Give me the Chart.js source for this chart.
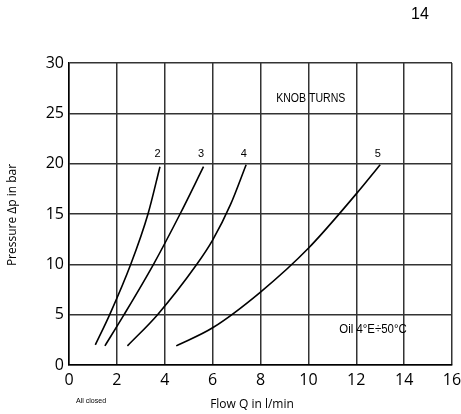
<!DOCTYPE html>
<html>
<head>
<meta charset="utf-8">
<script src="https://cdn.jsdelivr.net/npm/chart.js@4"></script>
<style>
  html, body { margin: 0; padding: 0; background: #fff; }
  #wrap { width: 461px; height: 414px; position: relative; }
</style>
</head>
<body>
<div id="wrap"><canvas id="chart"></canvas></div>
<script>
// flow Q (l/min) vs pressure (bar), one curve per knob setting
const turns = ['2', '3', '4', '5'];
const flow2 = [1.1, 1.7, 2.58, 3.3, 3.8];
const pres2 = [2, 5, 10, 15, 19.7];
const flow3 = [1.5, 2.3, 3.53, 4.64, 5.62];
const pres3 = [1.9, 5, 10, 15, 19.7];
const flow4 = [2.44, 3.7, 5.34, 6.0, 6.74, 7.4];
const pres4 = [1.9, 5, 10, 12.4, 15.9, 19.9];
const flow5 = [4.48, 6.0, 8.0, 10.0, 12.0, 13.0];
const pres5 = [1.9, 3.7, 7.25, 11.6, 17.0, 19.9];
const xTicks = [0, 2, 4, 6, 8, 10, 12, 14, 16];
const yTicks = [0, 5, 10, 15, 20, 25, 30];

const curves = [[flow2, pres2], [flow3, pres3], [flow4, pres4], [flow5, pres5]];

function toPoints(xs, ys) {
  return xs.map((x, i) => ({ x, y: ys[i] }));
}

const datasets = curves.map(([xs, ys], i) => ({
  label: turns[i],
  data: toPoints(xs, ys),
  showLine: true,
  borderColor: '#000',
  borderWidth: 1.6,
  pointRadius: 0,
  cubicInterpolationMode: 'monotone',
  fill: false,
}));

// condensed text, like the narrow face of the original
function narrowText(ctx, text, px, py, sx) {
  ctx.save();
  ctx.translate(px, py);
  ctx.scale(sx, 1);
  ctx.fillText(text, 0, 0);
  ctx.restore();
}

// extra texts placed in data units
const notes = {
  id: 'notes',
  afterDraw(chart) {
    const { ctx, scales: { x, y } } = chart;
    ctx.save();
    ctx.fillStyle = '#000';
    ctx.textAlign = 'center';
    ctx.textBaseline = 'middle';

    ctx.font = '11px "Liberation Sans", Arial, sans-serif';
    curves.forEach(([xs], i) => {
      const last = xs[xs.length - 1];
      ctx.fillText(turns[i], x.getPixelForValue(last - 0.1), y.getPixelForValue(21));
    });

    ctx.font = '12px "Liberation Sans", Arial, sans-serif';
    narrowText(ctx, 'KNOB TURNS', x.getPixelForValue(10.1), y.getPixelForValue(26.5), 0.88);
    narrowText(ctx, 'Oil 4°E÷50°C', x.getPixelForValue(12.7), y.getPixelForValue(3.5), 0.95);

    ctx.font = '8px "Liberation Sans", Arial, sans-serif';
    narrowText(ctx, 'All closed', 91, 401, 0.88);

    ctx.font = '12px "Open Sans", sans-serif';
    ctx.fillText('Flow Q in l/min', 252, 405);

    ctx.save();
    ctx.translate(13, 215);
    ctx.rotate(-Math.PI / 2);
    ctx.fillText('Pressure Δp in bar', 0, 0);
    ctx.restore();

    ctx.font = '16px "Liberation Sans", Arial, sans-serif';
    ctx.fillText('14', 420, 15);
    ctx.restore();
  }
};

new Chart(document.getElementById('chart'), {
  type: 'scatter',
  data: { datasets },
  options: {
    responsive: true,
    maintainAspectRatio: false,
    animation: false,
    layout: { padding: { top: 63, right: 9, left: 0, bottom: 0 } },
    plugins: { legend: { display: false }, tooltip: { enabled: false } },
    scales: {
      x: {
        type: 'linear',
        min: 0, max: 16,
        afterBuildTicks: s => { s.ticks = xTicks.map(v => ({ value: v })); },
        afterFit: s => { s.height = 49; s.paddingLeft = 0; s.paddingRight = 0; },
        grid: { color: '#333', lineWidth: 1.5, drawTicks: false },
        border: { color: '#000', width: 1.5 },
        ticks: { color: '#000', padding: 6, font: { family: '"Open Sans", sans-serif', size: 16 } },
      },
      y: {
        type: 'linear',
        min: 0, max: 30,
        afterBuildTicks: s => { s.ticks = yTicks.map(v => ({ value: v })); },
        afterFit: s => { s.width = 69; s.paddingTop = 0; s.paddingBottom = 0; },
        grid: { color: '#333', lineWidth: 1.5, drawTicks: false },
        border: { color: '#000', width: 1.5 },
        ticks: { color: '#000', padding: 5, font: { family: '"Open Sans", sans-serif', size: 16 } },
      },
    },
  },
  plugins: [notes],
});
</script>
</body>
</html>
